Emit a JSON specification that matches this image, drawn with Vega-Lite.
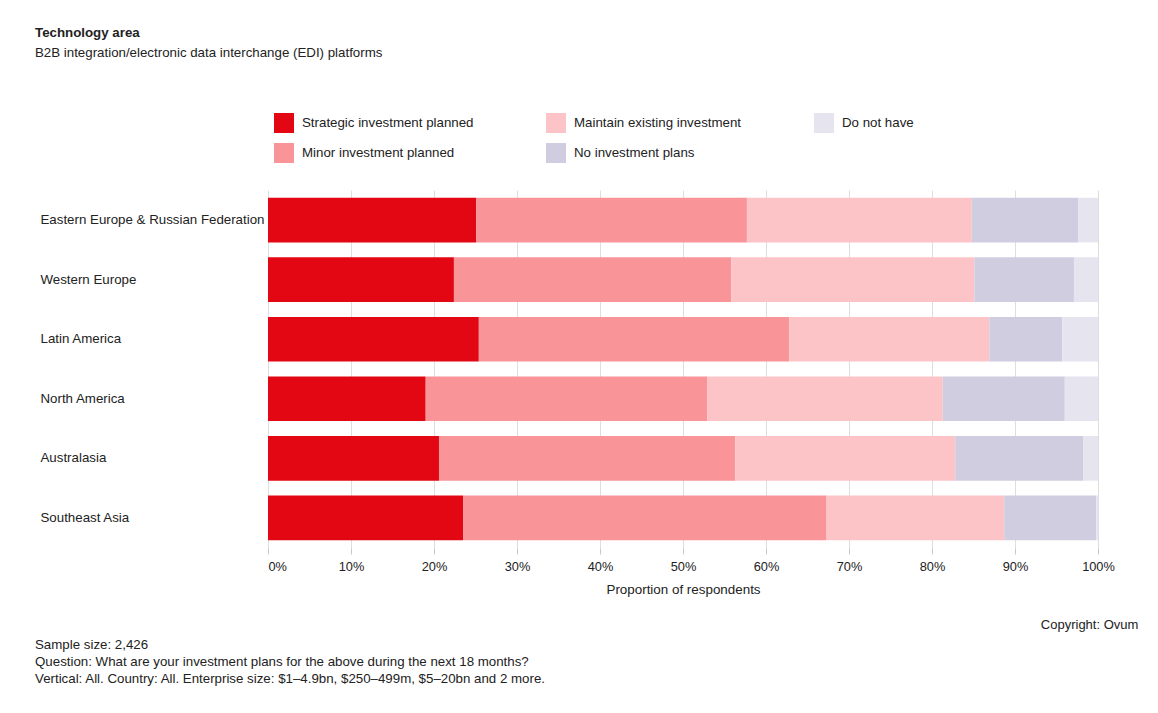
{
  "$schema": "https://vega.github.io/schema/vega-lite/v6.json",
  "background": "white",
  "padding": {"left": 35, "top": 26, "right": 20, "bottom": 20},
  "config": {
    "font": "Liberation Sans",
    "view": {"stroke": null},
    "title": {"color": "#222"},
    "axis": {"labelColor": "#222", "titleColor": "#222"}
  },
  "datasets": {
    "plans": [
      {"region": "Eastern Europe & Russian Federation", "category": "Strategic investment planned", "rank": 1, "value": 25.1},
      {"region": "Eastern Europe & Russian Federation", "category": "Minor investment planned", "rank": 2, "value": 32.6},
      {"region": "Eastern Europe & Russian Federation", "category": "Maintain existing investment", "rank": 3, "value": 27.1},
      {"region": "Eastern Europe & Russian Federation", "category": "No investment plans", "rank": 4, "value": 12.8},
      {"region": "Eastern Europe & Russian Federation", "category": "Do not have", "rank": 5, "value": 2.4},
      {"region": "Western Europe", "category": "Strategic investment planned", "rank": 1, "value": 22.4},
      {"region": "Western Europe", "category": "Minor investment planned", "rank": 2, "value": 33.4},
      {"region": "Western Europe", "category": "Maintain existing investment", "rank": 3, "value": 29.3},
      {"region": "Western Europe", "category": "No investment plans", "rank": 4, "value": 12.0},
      {"region": "Western Europe", "category": "Do not have", "rank": 5, "value": 2.9},
      {"region": "Latin America", "category": "Strategic investment planned", "rank": 1, "value": 25.4},
      {"region": "Latin America", "category": "Minor investment planned", "rank": 2, "value": 37.4},
      {"region": "Latin America", "category": "Maintain existing investment", "rank": 3, "value": 24.1},
      {"region": "Latin America", "category": "No investment plans", "rank": 4, "value": 8.8},
      {"region": "Latin America", "category": "Do not have", "rank": 5, "value": 4.3},
      {"region": "North America", "category": "Strategic investment planned", "rank": 1, "value": 19.0},
      {"region": "North America", "category": "Minor investment planned", "rank": 2, "value": 33.9},
      {"region": "North America", "category": "Maintain existing investment", "rank": 3, "value": 28.4},
      {"region": "North America", "category": "No investment plans", "rank": 4, "value": 14.7},
      {"region": "North America", "category": "Do not have", "rank": 5, "value": 4.0},
      {"region": "Australasia", "category": "Strategic investment planned", "rank": 1, "value": 20.6},
      {"region": "Australasia", "category": "Minor investment planned", "rank": 2, "value": 35.7},
      {"region": "Australasia", "category": "Maintain existing investment", "rank": 3, "value": 26.5},
      {"region": "Australasia", "category": "No investment plans", "rank": 4, "value": 15.4},
      {"region": "Australasia", "category": "Do not have", "rank": 5, "value": 1.8},
      {"region": "Southeast Asia", "category": "Strategic investment planned", "rank": 1, "value": 23.5},
      {"region": "Southeast Asia", "category": "Minor investment planned", "rank": 2, "value": 43.8},
      {"region": "Southeast Asia", "category": "Maintain existing investment", "rank": 3, "value": 21.4},
      {"region": "Southeast Asia", "category": "No investment plans", "rank": 4, "value": 11.1},
      {"region": "Southeast Asia", "category": "Do not have", "rank": 5, "value": 0.2}
    ]
  },
  "title": {
    "text": "Technology area",
    "subtitle": "B2B integration/electronic data interchange (EDI) platforms",
    "anchor": "start",
    "fontSize": 13.3,
    "fontWeight": "bold",
    "subtitleFontSize": 13.3,
    "subtitleColor": "#222",
    "subtitlePadding": 6,
    "dx": 0,
    "offset": 54
  },
  "vconcat": [
    {
      "title": {
        "text": ["Sample size: 2,426", "Question: What are your investment plans for the above during the next 18 months?", "Vertical: All. Country: All. Enterprise size: $1\u20134.9bn, $250\u2013499m, $5\u201320bn and 2 more."],
        "orient": "bottom",
        "anchor": "start",
        "fontSize": 13.3,
        "fontWeight": "normal",
        "lineHeight": 17,
        "dx": -5,
        "offset": 6
      },
      "vconcat": [
        {
          "width": 830,
          "height": 358,
          "title": {
            "text": "Copyright: Ovum",
            "orient": "bottom",
            "anchor": "end",
            "fontSize": 13,
            "fontWeight": "normal",
            "dx": 24,
            "offset": 23
          },
          "data": {"name": "plans"},
          "mark": {"type": "bar"},
          "encoding": {
            "y": {
              "field": "region",
              "type": "nominal",
              "sort": ["Eastern Europe & Russian Federation", "Western Europe", "Latin America", "North America", "Australasia", "Southeast Asia"],
              "scale": {"paddingInner": 0.25, "paddingOuter": 0.13},
              "axis": {
                "title": null,
                "ticks": false,
                "domain": false,
                "labelAlign": "left",
                "labelPadding": 228,
                "labelFontSize": 13.3,
                "labelLimit": 300
              }
            },
            "x": {
              "field": "value",
              "type": "quantitative",
              "stack": "normalize",
              "scale": {"domain": [0, 1], "nice": false},
              "axis": {
                "title": "Proportion of respondents",
                "format": ".0%",
                "values": [0, 0.1, 0.2, 0.3, 0.4, 0.5, 0.6, 0.7, 0.8, 0.9, 1],
                "grid": true,
                "gridColor": "#dedede",
                "domain": false,
                "tickColor": "#c8c8c8",
                "tickSize": 6,
                "labelFlush": false,
                "labelAlign": {"condition": {"test": "datum.value == 0", "value": "left"}, "value": "center"},
                "labelFontSize": 12.8,
                "labelPadding": 6,
                "titleFontSize": 13.4,
                "titleFontWeight": "normal",
                "titlePadding": 10
              }
            },
            "color": {
              "field": "category",
              "type": "nominal",
              "scale": {
                "domain": ["Strategic investment planned", "Minor investment planned", "Maintain existing investment", "No investment plans", "Do not have"],
                "range": ["#e30613", "#f99499", "#fdc4c8", "#d0cde1", "#e6e4ef"]
              },
              "legend": {
                "title": null,
                "orient": "none",
                "legendX": 6,
                "legendY": -77,
                "columns": 3,
                "columnPadding": 72,
                "rowPadding": 10,
                "symbolType": "square",
                "symbolSize": 400,
                "symbolStrokeWidth": 0,
                "symbolOpacity": 1,
                "labelFontSize": 13.3,
                "labelOffset": 8,
                "labelColor": "#222",
                "labelLimit": 300
              }
            },
            "order": {"field": "rank", "type": "quantitative", "sort": "ascending"}
          }
        }
      ]
    }
  ]
}
